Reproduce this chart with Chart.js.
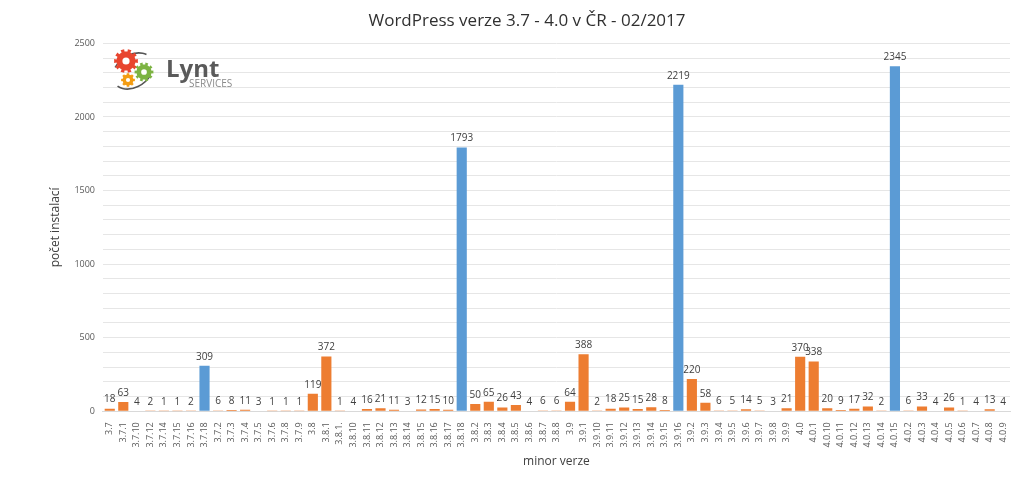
<!DOCTYPE html>
<html>
<head>
<meta charset="utf-8">
<script src="https://cdn.jsdelivr.net/npm/chart.js@4.4.1/dist/chart.umd.min.js"></script>
<style>
    html, body { margin: 0; padding: 0; background: #ffffff; }
    #wrap { width: 1024px; height: 480px; }
</style>
</head>
<body>
<div id="wrap"><canvas id="chart" width="1024" height="480"></canvas></div>
<script>
// verze WordPressu (kategorie osy x)
const versions = [
    '3.7', '3.7.1', '3.7.10', '3.7.12', '3.7.14', '3.7.15', '3.7.16', '3.7.18', '3.7.2', '3.7.3',
    '3.7.4', '3.7.5', '3.7.6', '3.7.8', '3.7.9',
    '3.8', '3.8.1', '3.8.1.', '3.8.10', '3.8.11', '3.8.12', '3.8.13', '3.8.14', '3.8.15', '3.8.16',
    '3.8.17', '3.8.18', '3.8.2', '3.8.3', '3.8.4', '3.8.5', '3.8.6', '3.8.7', '3.8.8',
    '3.9', '3.9.1', '3.9.10', '3.9.11', '3.9.12', '3.9.13', '3.9.14', '3.9.15', '3.9.16', '3.9.2',
    '3.9.3', '3.9.4', '3.9.5', '3.9.6', '3.9.7', '3.9.8', '3.9.9',
    '4.0', '4.0.1', '4.0.10', '4.0.11', '4.0.12', '4.0.13', '4.0.14', '4.0.15', '4.0.2', '4.0.3',
    '4.0.4', '4.0.5', '4.0.6', '4.0.7', '4.0.8', '4.0.9'
];

// počet instalací
const installs = [
    18, 63, 4, 2, 1, 1, 2, 309, 6, 8,
    11, 3, 1, 1, 1,
    119, 372, 1, 4, 16, 21, 11, 3, 12, 15,
    10, 1793, 50, 65, 26, 43, 4, 6, 6,
    64, 388, 2, 18, 25, 15, 28, 8, 2219, 220,
    58, 6, 5, 14, 5, 3, 21,
    370, 338, 20, 9, 17, 32, 2, 2345, 6, 33,
    4, 26, 1, 4, 13, 4
];

// poslední verze v každé větvi (modře)
const latestVersions = ['3.7.18', '3.8.18', '3.9.16', '4.0.15'];

const yTicks = [0, 500, 1000, 1500, 2000, 2500];

const colorLatest = '#5B9BD5';
const colorOther = '#ED7D31';

let barColors = [];
for (let i = 0; i < versions.length; i++) {
    barColors.push(latestVersions.indexOf(versions[i]) >= 0 ? colorLatest : colorOther);
}

// hodnoty nad sloupci
const valueLabelPlugin = {
    id: 'valueLabels',
    afterDatasetsDraw(chart) {
        let ctx = chart.ctx;
        let meta = chart.getDatasetMeta(0);
        ctx.save();
        ctx.font = '10px "Open Sans", sans-serif';
        ctx.fillStyle = '#404040';
        ctx.textAlign = 'center';
        ctx.textBaseline = 'bottom';
        for (let i = 0; i < meta.data.length; i++) {
            let bar = meta.data[i];
            ctx.fillText(String(installs[i]), bar.x, bar.y - 4);
        }
        ctx.restore();
    }
};

// logo Lynt Services v levém horním rohu
function drawGear(ctx, cx, cy, r, teeth, color) {
    ctx.save();
    ctx.fillStyle = color;
    ctx.beginPath();
    for (let i = 0; i < teeth * 2; i++) {
        let a = Math.PI * i / teeth;
        let rr = (i % 2 == 0) ? r : r * 0.8;
        let a1 = a - Math.PI / teeth / 2;
        let a2 = a + Math.PI / teeth / 2;
        ctx.lineTo(cx + rr * Math.cos(a1), cy + rr * Math.sin(a1));
        ctx.lineTo(cx + rr * Math.cos(a2), cy + rr * Math.sin(a2));
    }
    ctx.closePath();
    ctx.fill();
    ctx.fillStyle = '#ffffff';
    ctx.beginPath();
    ctx.arc(cx, cy, r * 0.3, 0, Math.PI * 2);
    ctx.fill();
    ctx.restore();
}

const logoPlugin = {
    id: 'lyntLogo',
    afterDraw(chart) {
        let ctx = chart.ctx;
        ctx.save();
        ctx.strokeStyle = '#555555';
        ctx.lineWidth = 1.6;
        ctx.beginPath();
        ctx.ellipse(133, 71, 22, 16, -0.6, 1.0, 2.9);
        ctx.stroke();
        ctx.beginPath();
        ctx.ellipse(133, 71, 22, 16, -0.6, 4.1, 5.9);
        ctx.stroke();
        drawGear(ctx, 126, 61, 12, 10, '#E8452F');
        drawGear(ctx, 144, 72, 9.5, 10, '#7CB342');
        drawGear(ctx, 128, 80, 7, 8, '#F39C12');
        ctx.fillStyle = '#5a5a5a';
        ctx.font = 'bold 24px "Open Sans", sans-serif';
        ctx.textBaseline = 'alphabetic';
        ctx.fillText('Lynt', 166, 77);
        ctx.fillStyle = '#8a8a8a';
        ctx.font = '10px "Open Sans", sans-serif';
        ctx.fillText('SERVICES', 189, 87);
        ctx.restore();
    }
};

let ctx = document.getElementById('chart').getContext('2d');
let chart = new Chart(ctx, {
    type: 'bar',
    data: {
        labels: versions,
        datasets: [{
            label: 'počet instalací',
            data: installs,
            backgroundColor: barColors,
            barPercentage: 0.75,
            categoryPercentage: 1.0
        }]
    },
    options: {
        responsive: false,
        animation: false,
        layout: {
            padding: { top: 4, right: 14, bottom: 7, left: 44 }
        },
        plugins: {
            legend: { display: false },
            tooltip: { enabled: false },
            title: {
                display: true,
                text: 'WordPress verze 3.7 - 4.0 v ČR - 02/2017',
                color: '#303030',
                font: { family: '"Open Sans", sans-serif', size: 17, weight: 'normal' },
                padding: { top: 7, bottom: 12 }
            }
        },
        scales: {
            x: {
                grid: { display: false },
                border: { color: '#d9d9d9' },
                ticks: {
                    autoSkip: false,
                    minRotation: 90,
                    maxRotation: 90,
                    color: '#595959',
                    font: { family: '"Open Sans", sans-serif', size: 9 },
                    padding: 3
                },
                title: {
                    display: true,
                    text: 'minor verze',
                    color: '#404040',
                    font: { family: '"Open Sans", sans-serif', size: 12 },
                    padding: { top: 4 }
                }
            },
            y: {
                min: 0,
                max: 2500,
                grid: { color: '#e6e6e6', drawTicks: false },
                border: { display: false },
                ticks: {
                    stepSize: 100,
                    color: '#595959',
                    font: { family: '"Open Sans", sans-serif', size: 9 },
                    padding: 8,
                    callback: function (value) {
                        return yTicks.indexOf(value) >= 0 ? value : '';
                    }
                },
                title: {
                    display: true,
                    text: 'počet instalací',
                    color: '#404040',
                    font: { family: '"Open Sans", sans-serif', size: 12 },
                    padding: { bottom: 4 }
                }
            }
        }
    },
    plugins: [valueLabelPlugin, logoPlugin]
});
</script>
</body>
</html>
